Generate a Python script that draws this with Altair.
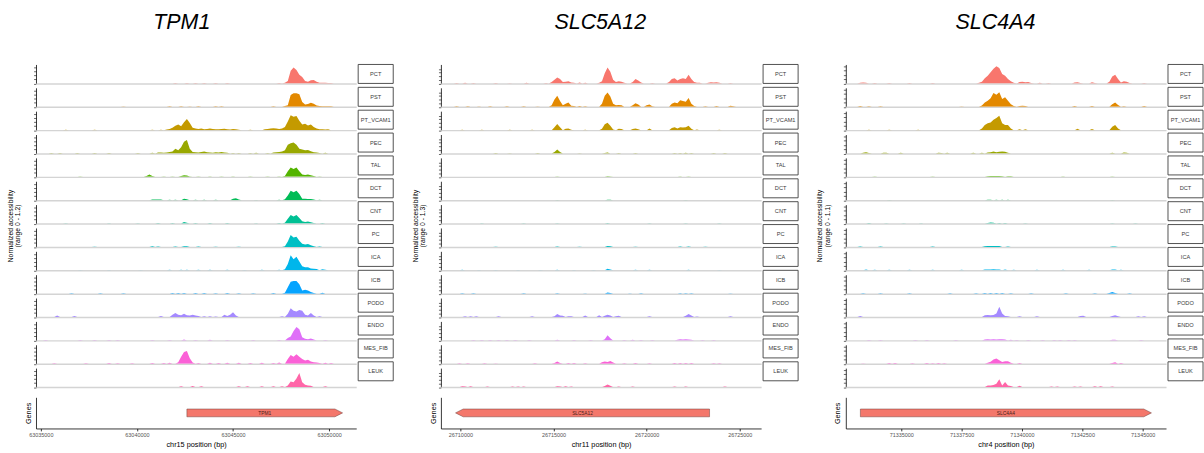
import altair as alt
import pandas as pd

FONT = "Liberation Sans"
TRACKS = ["PCT", "PST", "PT_VCAM1", "PEC", "TAL", "DCT", "CNT", "PC", "ICA", "ICB",
          "PODO", "ENDO", "MES_FIB", "LEUK"]
COLORS = ["#F8766D", "#E38900", "#C49A00", "#99A800", "#53B400", "#00BC56", "#00C094",
          "#00BFC4", "#00B6EB", "#06A4FF", "#A58AFF", "#DF70F8", "#FB61D7", "#FF66A8"]

GENES = ["TPM1", "SLC5A12", "SLC4A4"]
CHROMS = ["chr15", "chr11", "chr4"]
Y_MAX = [1.2, 1.3, 1.1]
X_DOMAIN = [[63034750, 63051410], [26708955, 26726145], [71332702, 71345968]]
X_TICKS = [[63035000, 63040000, 63045000, 63050000],
           [26710000, 26715000, 26720000, 26725000],
           [71335000, 71337500, 71340000, 71342500, 71345000]]
BIN_START = [63034800, 26708900, 71332700]
BIN_SIZE = [150, 150, 120]
BIN_COUNT = [112, 116, 112]
GENE_START = [63042600, 26709740, 71333306]
GENE_END = [63050700, 26723375, 71345363]
GENE_STRAND = ["+", "-", "+"]

# coverage: {track: [(bin index, normalized accessibility), ...]}, other bins are 0
COV_TPM1 = {
    "PCT": [(48, .02), (52, .03), (55, .02), (58, .03), (62, .02), (66, .02), (84, .03), (86, .05), (87, .15), (88, .8), (89, 1.0), (90, .85), (91, .55), (92, .4), (93, .15), (94, .1), (95, .2), (96, .22), (97, .1), (98, .05), (99, .04), (100, .04), (101, .03), (102, .03)],
    "PST": [(30, .02), (46, .03), (50, .03), (53, .02), (56, .03), (62, .04), (64, .03), (82, .03), (86, .05), (87, .1), (88, .75), (89, .85), (90, .85), (91, .8), (92, .3), (93, .15), (94, .18), (95, .25), (96, .2), (97, .08), (98, .05), (99, .04), (100, .04), (101, .04), (102, .03)],
    "PT_VCAM1": [(10, .02), (20, .02), (40, .03), (43, .03), (45, .04), (46, .08), (47, .15), (48, .28), (49, .35), (50, .25), (51, .5), (52, .7), (53, .45), (54, .15), (55, .1), (56, .08), (57, .1), (58, .06), (59, .08), (60, .1), (61, .08), (62, .06), (63, .05), (64, .08), (65, .09), (66, .05), (67, .04), (68, .08), (69, .05), (70, .03), (74, .03), (79, .05), (80, .08), (81, .1), (82, .12), (83, .1), (84, .08), (85, .1), (86, .2), (87, .55), (88, .95), (89, .85), (90, .9), (91, .6), (92, .35), (93, .4), (94, .3), (95, .35), (96, .2), (97, .1), (98, .06), (99, .05), (100, .04), (101, .05)],
    "PEC": [(5, .04), (8, .03), (14, .03), (20, .04), (25, .03), (35, .03), (40, .05), (42, .06), (43, .06), (44, .05), (45, .07), (46, .1), (47, .12), (48, .3), (49, .2), (50, .4), (51, .75), (52, .85), (53, .3), (54, .1), (55, .08), (56, .06), (57, .1), (58, .12), (59, .08), (60, .06), (61, .05), (62, .08), (63, .06), (64, .1), (65, .06), (66, .05), (68, .04), (70, .03), (74, .04), (76, .05), (80, .03), (82, .06), (83, .08), (84, .1), (85, .12), (86, .2), (87, .55), (88, .65), (89, .7), (90, .55), (91, .3), (92, .25), (93, .2), (94, .22), (95, .15), (96, .08), (97, .06), (98, .04), (100, .05)],
    "TAL": [(15, .02), (38, .05), (39, .15), (40, .05), (44, .02), (47, .03), (50, .05), (51, .1), (52, .08), (53, .03), (56, .03), (60, .03), (64, .02), (68, .03), (74, .02), (80, .03), (84, .03), (86, .06), (87, .35), (88, .6), (89, .5), (90, .6), (91, .35), (92, .15), (93, .12), (94, .15), (95, .1), (96, .05), (98, .03)],
    "DCT": [(40, .04), (41, .05), (42, .05), (43, .04), (46, .03), (48, .03), (51, .1), (52, .06), (55, .03), (58, .03), (62, .03), (68, .1), (69, .12), (70, .05), (76, .02), (84, .03), (86, .06), (87, .3), (88, .6), (89, .5), (90, .6), (91, .4), (92, .1), (93, .1), (94, .08), (95, .08), (96, .04), (98, .03)],
    "CNT": [(10, .02), (25, .02), (35, .02), (42, .04), (47, .03), (51, .1), (52, .05), (55, .03), (60, .03), (66, .03), (76, .02), (84, .03), (86, .05), (87, .3), (88, .55), (89, .45), (90, .55), (91, .35), (92, .15), (93, .1), (94, .14), (95, .08), (96, .04), (99, .03)],
    "PC": [(20, .02), (40, .04), (42, .03), (48, .03), (51, .05), (52, .04), (56, .03), (62, .02), (70, .02), (86, .05), (87, .35), (88, .75), (89, .6), (90, .65), (91, .4), (92, .2), (93, .15), (94, .18), (95, .1), (96, .05), (98, .03)],
    "ICA": [(15, .02), (25, .02), (36, .02), (46, .03), (50, .04), (52, .04), (56, .03), (60, .03), (66, .03), (72, .02), (78, .03), (84, .03), (86, .06), (87, .4), (88, .95), (89, .7), (90, .85), (91, .55), (92, .25), (93, .2), (94, .2), (95, .12), (96, .1), (97, .08), (99, .06), (100, .03)],
    "ICB": [(12, .02), (22, .02), (30, .02), (47, .04), (49, .05), (51, .04), (55, .04), (58, .05), (62, .03), (66, .04), (70, .03), (75, .03), (82, .04), (86, .06), (87, .4), (88, .75), (89, .8), (90, .8), (91, .6), (92, .2), (93, .25), (94, .2), (95, .1), (96, .05), (99, .06)],
    "PODO": [(7, .1), (13, .07), (43, .06), (47, .15), (48, .25), (49, .15), (50, .12), (51, .2), (52, .12), (53, .1), (54, .15), (55, .1), (56, .06), (58, .05), (60, .05), (62, .04), (65, .15), (66, .06), (67, .15), (68, .3), (69, .1), (85, .05), (87, .2), (88, .55), (89, .4), (90, .35), (91, .45), (92, .4), (93, .15), (94, .1), (95, .25), (96, .1), (98, .05)],
    "ENDO": [(3, .02), (15, .02), (20, .02), (25, .02), (28, .02), (40, .03), (46, .03), (51, .05), (55, .03), (60, .04), (66, .02), (75, .02), (84, .03), (87, .15), (88, .25), (89, .6), (90, .85), (91, .7), (92, .2), (93, .1), (94, .08), (95, .12), (96, .05), (100, .03)],
    "MES_FIB": [(6, .03), (17, .03), (25, .04), (28, .03), (33, .03), (40, .04), (44, .05), (46, .06), (49, .1), (50, .45), (51, .75), (52, .8), (53, .35), (54, .08), (56, .05), (60, .06), (63, .05), (66, .06), (70, .06), (74, .05), (78, .06), (82, .05), (84, .08), (87, .3), (88, .55), (89, .45), (90, .6), (91, .45), (92, .3), (93, .2), (94, .25), (95, .15), (96, .1), (97, .08), (98, .05), (100, .06), (102, .04)],
    "LEUK": [(50, .06), (54, .07), (57, .05), (70, .06), (73, .05), (78, .05), (82, .05), (85, .06), (87, .1), (88, .35), (89, .3), (90, .55), (91, .9), (92, .3), (93, .15), (94, .1), (95, .08), (100, .05)],
}

COV_SLC5A12 = {
    "PCT": [(6, .03), (9, .04), (12, .03), (20, .03), (25, .02), (31, .04), (38, .03), (40, .1), (41, .25), (42, .4), (43, .3), (44, .1), (45, .12), (46, .15), (47, .06), (48, .05), (50, .06), (52, .04), (57, .05), (58, .15), (59, .7), (60, 1.1), (61, .8), (62, .25), (63, .1), (64, .15), (65, .12), (66, .04), (69, .1), (70, .3), (71, .2), (72, .06), (76, .03), (82, .1), (83, .3), (84, .35), (85, .2), (86, .3), (87, .35), (88, .3), (89, .6), (90, .3), (91, .1), (92, .05), (93, .04), (96, .05), (97, .08), (98, .06), (99, .08), (100, .04), (104, .03)],
    "PST": [(6, .03), (10, .03), (14, .02), (18, .03), (24, .03), (30, .03), (35, .02), (40, .1), (41, .5), (42, .75), (43, .4), (44, .1), (45, .2), (46, .3), (47, .08), (48, .05), (50, .05), (52, .04), (58, .2), (59, .75), (60, .98), (61, .7), (62, .2), (63, .1), (64, .12), (65, .1), (69, .1), (70, .25), (71, .15), (74, .1), (75, .15), (76, .04), (83, .2), (84, .3), (85, .25), (86, .45), (87, .4), (88, .35), (89, .6), (90, .2), (91, .05), (95, .04), (99, .05), (104, .08), (105, .03)],
    "PT_VCAM1": [(8, .02), (15, .03), (25, .02), (33, .03), (41, .2), (42, .42), (43, .2), (45, .1), (46, .12), (47, .03), (52, .03), (58, .1), (59, .4), (60, .5), (61, .3), (62, .05), (64, .1), (65, .08), (69, .08), (70, .12), (71, .06), (75, .12), (83, .15), (84, .2), (85, .12), (86, .2), (87, .18), (88, .2), (89, .3), (90, .1), (92, .04), (100, .02)],
    "PEC": [(20, .03), (25, .02), (35, .03), (41, .1), (42, .27), (43, .1), (50, .02), (59, .04), (60, .07), (64, .03), (70, .03), (84, .04), (86, .04), (88, .05), (90, .04), (98, .03), (102, .04)],
    "TAL": [(42, .02), (60, .04), (61, .03), (86, .02), (89, .02)],
    "DCT": [(42, .02), (60, .04), (61, .03), (88, .02)],
    "CNT": [(15, .02), (30, .02), (42, .02), (60, .04), (75, .02), (88, .02), (100, .02)],
    "PC": [(20, .02), (42, .03), (50, .02), (60, .06), (61, .04), (70, .02), (86, .03), (89, .03), (95, .02)],
    "ICA": [(8, .03), (14, .02), (20, .02), (28, .02), (36, .02), (42, .03), (48, .02), (55, .02), (60, .1), (61, .06), (70, .03), (75, .03), (89, .04), (100, .02)],
    "ICB": [(8, .03), (12, .03), (30, .03), (42, .03), (52, .02), (60, .08), (61, .04), (68, .02), (72, .03), (86, .03), (88, .03), (90, .03), (104, .02)],
    "PODO": [(9, .06), (11, .05), (13, .05), (21, .05), (33, .05), (41, .06), (42, .2), (43, .1), (44, .08), (46, .06), (47, .05), (52, .1), (57, .12), (59, .08), (60, .15), (61, .1), (63, .06), (64, .08), (75, .06), (88, .08), (89, .2), (90, .1), (92, .04), (104, .06)],
    "ENDO": [(12, .02), (15, .03), (18, .03), (21, .03), (24, .03), (27, .02), (32, .02), (42, .05), (48, .02), (54, .03), (59, .08), (60, .35), (61, .15), (66, .02), (69, .04), (72, .03), (76, .02), (85, .04), (86, .08), (87, .06), (88, .07), (89, .06), (90, .04), (94, .02), (98, .02)],
    "MES_FIB": [(7, .04), (10, .03), (16, .04), (20, .02), (34, .03), (41, .05), (42, .15), (43, .06), (46, .05), (48, .06), (52, .04), (58, .1), (59, .15), (60, .12), (61, .18), (62, .08), (66, .03), (70, .06), (75, .03), (84, .06), (86, .05), (88, .06), (90, .05), (98, .04), (100, .03)],
    "LEUK": [(8, .06), (9, .05), (11, .06), (17, .05), (26, .05), (28, .05), (30, .04), (42, .06), (43, .05), (45, .06), (47, .05), (59, .08), (60, .18), (61, .1), (64, .04), (69, .05), (84, .05), (88, .05), (102, .05)],
}

COV_SLC4A4 = {
    "PCT": [(5, .04), (6, .05), (7, .04), (10, .02), (15, .02), (22, .02), (30, .02), (46, .04), (47, .1), (48, .3), (49, .45), (50, .65), (51, .85), (52, 1.0), (53, .9), (54, .55), (55, .45), (56, .25), (57, .12), (58, .04), (60, .08), (61, .1), (62, .07), (63, .09), (64, .03), (67, .04), (70, .03), (79, .06), (80, .07), (81, .03), (85, .07), (86, .03), (91, .1), (92, .4), (93, .5), (94, .25), (95, .06), (96, .12), (97, .1), (98, .03), (103, .03)],
    "PST": [(5, .04), (8, .03), (12, .03), (40, .02), (47, .08), (48, .25), (49, .35), (50, .5), (51, .8), (52, .7), (53, .85), (54, .45), (55, .55), (56, .35), (57, .15), (58, .04), (60, .05), (61, .06), (62, .04), (79, .04), (85, .04), (92, .15), (93, .25), (94, .1), (96, .03), (103, .04)],
    "PT_VCAM1": [(8, .03), (15, .03), (25, .02), (47, .1), (48, .3), (49, .4), (50, .45), (51, .6), (52, .7), (53, .83), (54, .4), (55, .3), (56, .3), (57, .1), (60, .05), (62, .05), (80, .08), (85, .06), (92, .2), (93, .3), (94, .1)],
    "PEC": [(6, .04), (7, .08), (8, .03), (13, .05), (14, .04), (19, .04), (32, .04), (33, .03), (35, .04), (44, .04), (47, .04), (49, .06), (50, .08), (51, .12), (52, .08), (53, .1), (54, .12), (55, .1), (56, .04), (92, .05), (96, .06), (97, .04)],
    "TAL": [(10, .02), (30, .02), (49, .04), (50, .05), (51, .05), (52, .05), (53, .05), (54, .04), (56, .04), (57, .03), (75, .02), (92, .02)],
    "DCT": [(15, .02), (49, .03), (50, .03), (52, .03), (54, .03), (56, .03), (92, .02)],
    "CNT": [(8, .03), (14, .02), (20, .02), (26, .02), (49, .04), (50, .06), (51, .05), (53, .04), (55, .03), (62, .02), (92, .02), (100, .02)],
    "PC": [(5, .02), (12, .02), (30, .02), (48, .04), (49, .06), (50, .06), (51, .06), (52, .06), (53, .05), (56, .03), (92, .03), (93, .03)],
    "ICA": [(7, .04), (10, .03), (15, .03), (22, .03), (30, .03), (40, .03), (48, .04), (49, .05), (50, .05), (51, .06), (52, .05), (53, .05), (55, .04), (58, .03), (66, .03), (75, .03), (84, .03), (92, .04), (93, .04), (95, .03)],
    "ICB": [(6, .02), (12, .02), (22, .02), (36, .03), (45, .03), (48, .04), (50, .04), (52, .04), (54, .04), (57, .03), (64, .02), (76, .02), (86, .02), (91, .04), (92, .1), (93, .04), (98, .02)],
    "PODO": [(5, .06), (48, .1), (49, .12), (50, .1), (51, .12), (52, .2), (53, .6), (54, .2), (55, .06), (56, .05), (60, .04), (66, .05), (81, .06), (82, .07), (92, .06), (93, .1), (94, .04), (101, .04), (103, .04)],
    "ENDO": [(8, .02), (12, .02), (24, .02), (28, .02), (38, .02), (48, .05), (49, .06), (50, .05), (51, .06), (52, .05), (53, .06), (54, .07), (55, .05), (57, .03), (59, .02), (63, .02), (68, .02), (72, .02), (74, .02), (77, .02), (79, .02), (92, .04), (93, .03), (102, .02)],
    "MES_FIB": [(6, .02), (15, .04), (17, .04), (23, .03), (28, .04), (30, .03), (32, .04), (34, .03), (49, .06), (50, .12), (51, .25), (52, .3), (53, .2), (54, .1), (55, .15), (56, .15), (57, .06), (60, .05), (92, .05), (93, .08), (95, .04)],
    "LEUK": [(49, .1), (50, .1), (51, .12), (52, .2), (53, .45), (54, .1), (55, .3), (56, .1), (57, .06), (60, .08), (71, .04), (73, .04), (79, .04), (81, .04), (86, .05), (88, .05), (92, .04)],
}
COVERAGE = [COV_TPM1, COV_SLC5A12, COV_SLC4A4]

PLOT_W = 329
ROW_H = 19.5
ROW_GAP = 4
TRACKS_H = len(TRACKS) * ROW_H + (len(TRACKS) - 1) * ROW_GAP
STRIP_W = 36
GENE_H = 32
TITLE_DX = [-19, -5, -15]


def coverage_frame(k):
    rows = []
    for t in TRACKS:
        vals = [0.0] * BIN_COUNT[k]
        for b, v in COVERAGE[k][t]:
            vals[b] = v
        for i, v in enumerate(vals):
            rows.append({"track": t, "pos": BIN_START[k] + BIN_SIZE[k] * i, "val": v})
    return pd.DataFrame(rows)


def gene_frame(k):
    s, e = GENE_START[k], GENE_END[k]
    head = 0.024 * (X_DOMAIN[k][1] - X_DOMAIN[k][0])
    lo, hi, mid = 0.375, 0.625, 0.5
    if GENE_STRAND[k] == "+":
        pts = [(s, lo, hi), (e - head, lo, hi), (e, mid, mid)]
    else:
        pts = [(s, mid, mid), (s + head, lo, hi), (e, lo, hi)]
    return pd.DataFrame([{"x": p[0], "lo": p[1], "hi": p[2]} for p in pts])


def panel(k):
    xscale = alt.Scale(domain=X_DOMAIN[k], nice=False, zero=False)
    yscale = alt.Scale(domain=[0, Y_MAX[k]], nice=False, clamp=True)
    df = coverage_frame(k)

    area = alt.Chart(df).mark_area(interpolate="linear", clip=True, opacity=1).encode(
        x=alt.X("pos:Q", scale=xscale, axis=alt.Axis(
            title="", labels=False, ticks=False, domainColor="#d4d4d4", domainWidth=1.5,
            grid=False)),
        y=alt.Y("val:Q", scale=yscale, axis=alt.Axis(
            title="", labels=False, values=[0, 0.25, 0.5, 0.75, 1.0], tickSize=2.5,
            tickColor="black", domainColor="black", domainWidth=0.8, tickWidth=0.6,
            minExtent=0, grid=False)),
        color=alt.Color("track:N", scale=alt.Scale(domain=TRACKS, range=COLORS), legend=None),
    ).properties(width=PLOT_W, height=ROW_H)
    tracks = area.facet(
        row=alt.Row("track:N", sort=TRACKS,
                    title=["Normalized accessibility", "(range 0 - %s)" % Y_MAX[k]],
                    header=alt.Header(labels=False, labelPadding=0, titlePadding=2,
                                      titleFontSize=7, titleFontWeight="normal",
                                      titleColor="black", titleFont=FONT,
                                      titleLineHeight=8)),
        spacing=ROW_GAP,
    ).resolve_axis(x="independent")

    strip_df = pd.DataFrame({"track": TRACKS})
    band = alt.Scale(domain=TRACKS, paddingInner=ROW_GAP / (ROW_H + ROW_GAP), paddingOuter=0)
    box = alt.Chart().mark_rect(fill="white", stroke="#3a3a3a", strokeWidth=0.9).encode(
        y=alt.Y("track:N", scale=band, axis=None),
        x=alt.value(0), x2=alt.value(STRIP_W),
    )
    lab = alt.Chart().mark_text(fontSize=5.8, color="#3a3a3a", font=FONT).encode(
        y=alt.Y("track:N", scale=band, axis=None),
        x=alt.value(STRIP_W / 2), text="track:N",
    )
    strips = alt.layer(box, lab, data=strip_df).properties(width=STRIP_W, height=TRACKS_H)

    gdf = gene_frame(k)
    garea = alt.Chart(gdf).mark_area(
        interpolate="linear", fill="#F4776B", stroke="#6b3b36", strokeWidth=0.5
    ).encode(
        x=alt.X("x:Q", scale=xscale, axis=alt.Axis(
            values=X_TICKS[k], format="d", title="%s position (bp)" % CHROMS[k],
            labelFontSize=5.6, labelColor="#555555", tickSize=2.5, tickColor="#333333",
            domainColor="black", domainWidth=0.8, titleFontSize=7.5, titleFontWeight="normal",
            titleColor="black", titlePadding=2, labelPadding=2, grid=False)),
        y=alt.Y("lo:Q", scale=alt.Scale(domain=[0, 1], nice=False), axis=alt.Axis(
            title="Genes", labels=False, ticks=False, domainColor="black", domainWidth=0.8,
            titleFontSize=7.5, titleFontWeight="normal", titleColor="black", titlePadding=4,
            minExtent=0, grid=False)),
        y2="hi:Q",
    )
    gtext = alt.Chart(pd.DataFrame({
        "x": [(GENE_START[k] + GENE_END[k]) / 2], "y": [0.5], "name": [GENES[k]]
    })).mark_text(fontSize=5, color="#4a1f1a", font=FONT).encode(
        x=alt.X("x:Q", scale=xscale), y=alt.Y("y:Q", scale=alt.Scale(domain=[0, 1])), text="name:N"
    )
    gene = alt.layer(garea, gtext).properties(width=PLOT_W, height=GENE_H)

    top = alt.hconcat(tracks, strips, spacing=1)
    return alt.vconcat(top, gene, spacing=9, title=alt.TitleParams(
        GENES[k], fontSize=22, fontStyle="italic", fontWeight="normal", font=FONT,
        anchor="middle", color="black", offset=31, dx=TITLE_DX[k]))


chart = alt.hconcat(panel(0), panel(1), panel(2), spacing=17).properties(
    padding={"left": 6, "top": 5, "right": 0, "bottom": 0}
).configure(font=FONT).configure_view(stroke=None)

chart.save("out.html", embed_options={"renderer": "svg", "actions": False})
